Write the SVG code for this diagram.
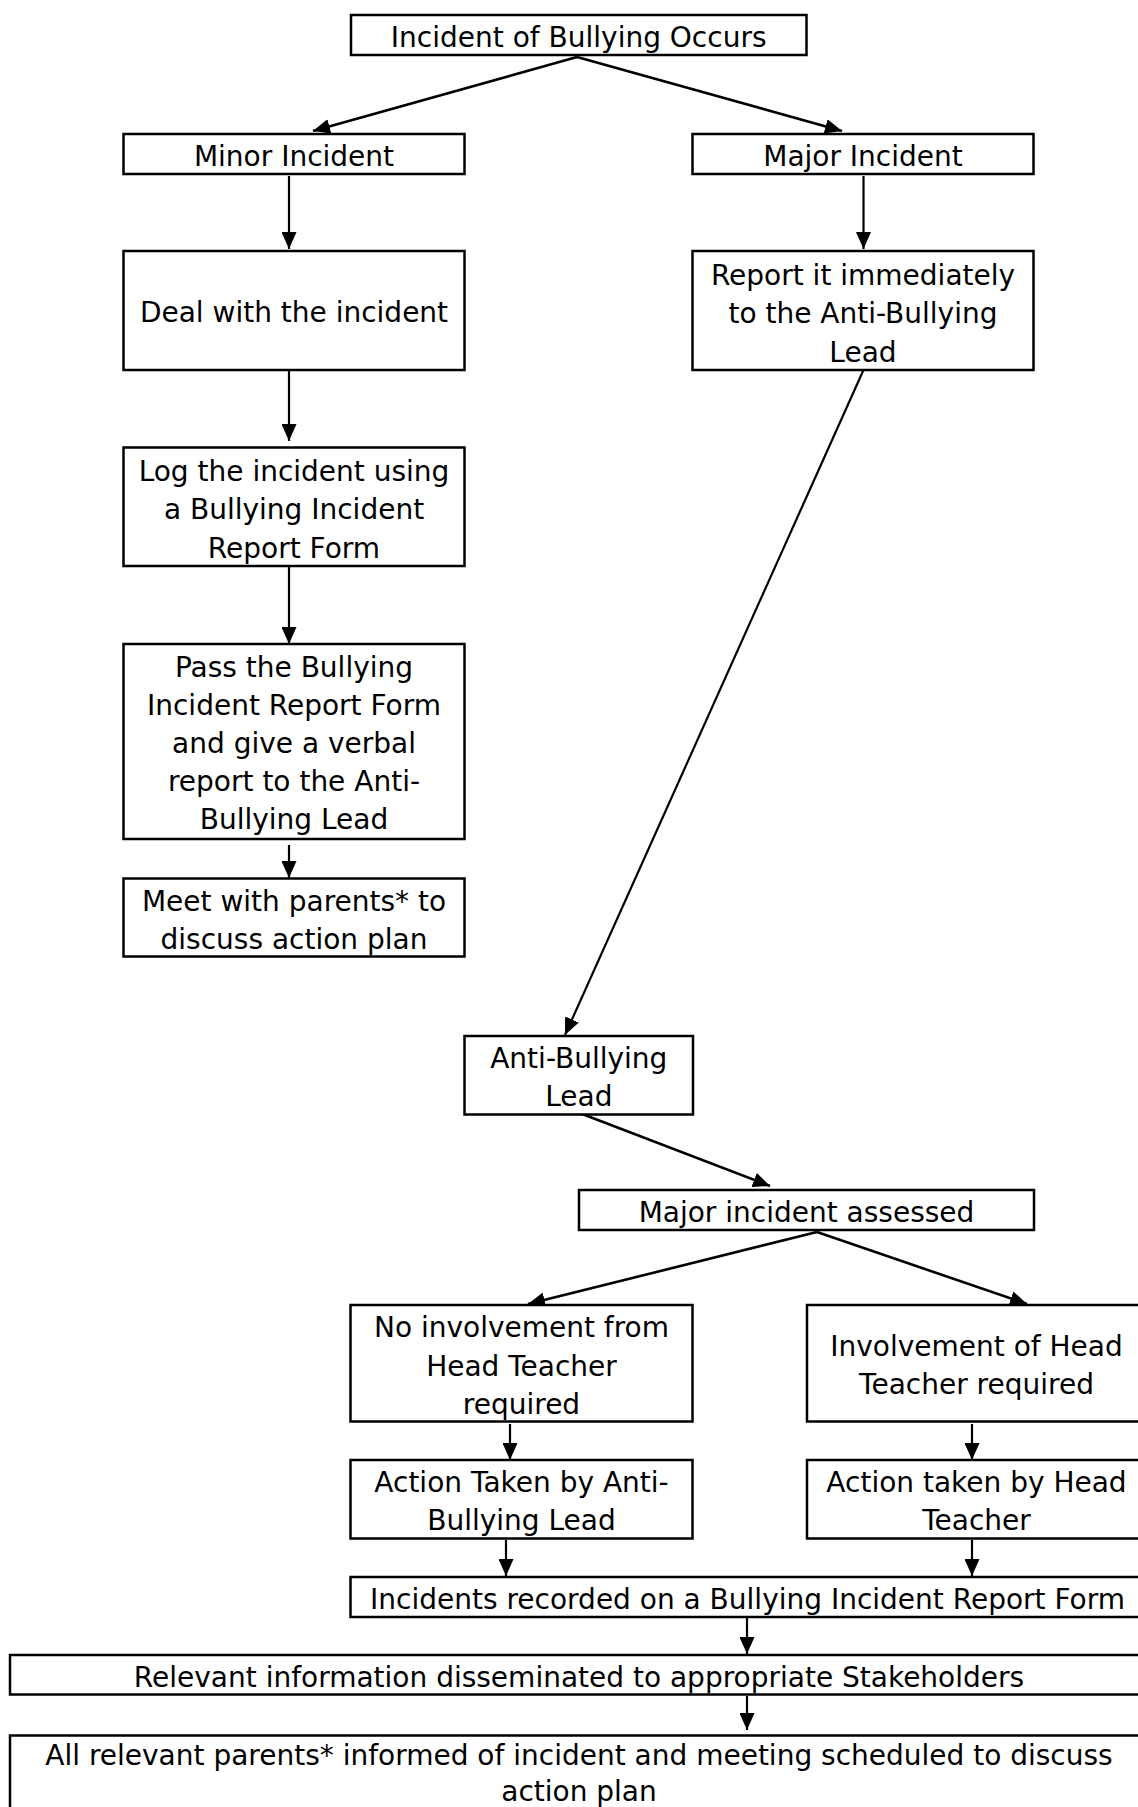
<svg xmlns="http://www.w3.org/2000/svg" width="1138" height="1807" viewBox="0 0 1138 1807">
<style>
  .box { fill: #ffffff; stroke: #000000; stroke-width: 2.5; }
  .t { font-family: "DejaVu Sans", Verdana, sans-serif; font-size: 28px; fill: #000000; text-anchor: middle; }
  .c { fill: none; stroke: #000000; stroke-width: 2.2; marker-end: url(#ah); }
  .d { stroke-width: 2.6; }
</style>
<defs>
  <marker id="ah" markerUnits="userSpaceOnUse" markerWidth="17" markerHeight="15" refX="17" refY="7.5" orient="auto" viewBox="0 0 17 15">
    <path d="M0,0 L17,7.5 L0,15 z" fill="#000000"/>
  </marker>
</defs>
<rect x="0" y="0" width="1138" height="1807" fill="#ffffff"/>

<g id="connectors">
  <line class="c d" x1="577" y1="57" x2="313" y2="131"/>
  <line class="c d" x1="577" y1="57" x2="842" y2="131"/>
  <line class="c" x1="289" y1="176" x2="289" y2="249"/>
  <line class="c" x1="863.5" y1="176" x2="863.5" y2="249"/>
  <line class="c" x1="289" y1="370" x2="289" y2="441"/>
  <line class="c" x1="289" y1="562" x2="289" y2="644"/>
  <line class="c" x1="289" y1="845" x2="289" y2="878"/>
  <line class="c" x1="863.5" y1="370" x2="565" y2="1035"/>
  <line class="c d" x1="577" y1="1112" x2="770" y2="1186"/>
  <line class="c d" x1="817" y1="1232" x2="528" y2="1304"/>
  <line class="c d" x1="817" y1="1232" x2="1027" y2="1304"/>
  <line class="c" x1="510" y1="1424" x2="510" y2="1460"/>
  <line class="c" x1="972" y1="1424" x2="972" y2="1460"/>
  <line class="c" x1="506" y1="1540" x2="506" y2="1576"/>
  <line class="c" x1="972" y1="1540" x2="972" y2="1576"/>
  <line class="c" x1="747" y1="1618" x2="747" y2="1654"/>
  <line class="c" x1="747" y1="1696" x2="747" y2="1730"/>
</g>

<g id="n-start">
  <rect class="box" x="351" y="15" width="455.5" height="40"/>
  <text class="t" x="578.7" y="47">Incident of Bullying Occurs</text>
</g>
<g id="n-minor">
  <rect class="box" x="123.5" y="134" width="341" height="40"/>
  <text class="t" x="294" y="166">Minor Incident</text>
</g>
<g id="n-major">
  <rect class="box" x="692.5" y="134" width="341" height="40"/>
  <text class="t" x="863" y="166">Major Incident</text>
</g>
<g id="n-deal">
  <rect class="box" x="123.5" y="251" width="341" height="119"/>
  <text class="t" x="294" y="322">Deal with the incident</text>
</g>
<g id="n-report">
  <rect class="box" x="692.5" y="251" width="341" height="119"/>
  <text class="t" x="863" y="284.5">Report it immediately</text>
  <text class="t" x="863" y="323">to the Anti-Bullying</text>
  <text class="t" x="863" y="361.5">Lead</text>
</g>
<g id="n-log">
  <rect class="box" x="123.5" y="447.5" width="341" height="118.5"/>
  <text class="t" x="294" y="480.5">Log the incident using</text>
  <text class="t" x="294" y="519">a Bullying Incident</text>
  <text class="t" x="294" y="557.5">Report Form</text>
</g>
<g id="n-pass">
  <rect class="box" x="123.5" y="644" width="341" height="195"/>
  <text class="t" x="294" y="677">Pass the Bullying</text>
  <text class="t" x="294" y="715">Incident Report Form</text>
  <text class="t" x="294" y="753">and give a verbal</text>
  <text class="t" x="294" y="791">report to the Anti-</text>
  <text class="t" x="294" y="829">Bullying Lead</text>
</g>
<g id="n-meet">
  <rect class="box" x="123.5" y="878.5" width="341" height="78"/>
  <text class="t" x="294" y="910.5">Meet with parents* to</text>
  <text class="t" x="294" y="948.5">discuss action plan</text>
</g>
<g id="n-abl">
  <rect class="box" x="464.5" y="1036" width="228.5" height="78.5"/>
  <text class="t" x="578.8" y="1068">Anti-Bullying</text>
  <text class="t" x="578.8" y="1106">Lead</text>
</g>
<g id="n-assessed">
  <rect class="box" x="579" y="1190" width="455" height="40"/>
  <text class="t" x="806.5" y="1222">Major incident assessed</text>
</g>
<g id="n-noinv">
  <rect class="box" x="350.5" y="1305" width="342" height="116.5"/>
  <text class="t" x="521.5" y="1337">No involvement from</text>
  <text class="t" x="521.5" y="1375.5">Head Teacher</text>
  <text class="t" x="521.5" y="1414">required</text>
</g>
<g id="n-inv">
  <rect class="box" x="807" y="1305" width="339" height="116.5"/>
  <text class="t" x="976.5" y="1356">Involvement of Head</text>
  <text class="t" x="976.5" y="1394">Teacher required</text>
</g>
<g id="n-act-abl">
  <rect class="box" x="350.5" y="1460" width="342" height="78.5"/>
  <text class="t" x="521.5" y="1492">Action Taken by Anti-</text>
  <text class="t" x="521.5" y="1530">Bullying Lead</text>
</g>
<g id="n-act-ht">
  <rect class="box" x="807" y="1460" width="339" height="78.5"/>
  <text class="t" x="976.5" y="1492">Action taken by Head</text>
  <text class="t" x="976.5" y="1530">Teacher</text>
</g>
<g id="n-recorded">
  <rect class="box" x="350.5" y="1577" width="794" height="40"/>
  <text class="t" x="747.5" y="1608.5">Incidents recorded on a Bullying Incident Report Form</text>
</g>
<g id="n-dissem">
  <rect class="box" x="10" y="1655" width="1138" height="39.5"/>
  <text class="t" x="579" y="1687">Relevant information disseminated to appropriate Stakeholders</text>
</g>
<g id="n-parents">
  <rect class="box" x="10" y="1735.5" width="1138" height="80"/>
  <text class="t" x="579" y="1765">All relevant parents* informed of incident and meeting scheduled to discuss</text>
  <text class="t" x="579" y="1801">action plan</text>
</g>
</svg>
